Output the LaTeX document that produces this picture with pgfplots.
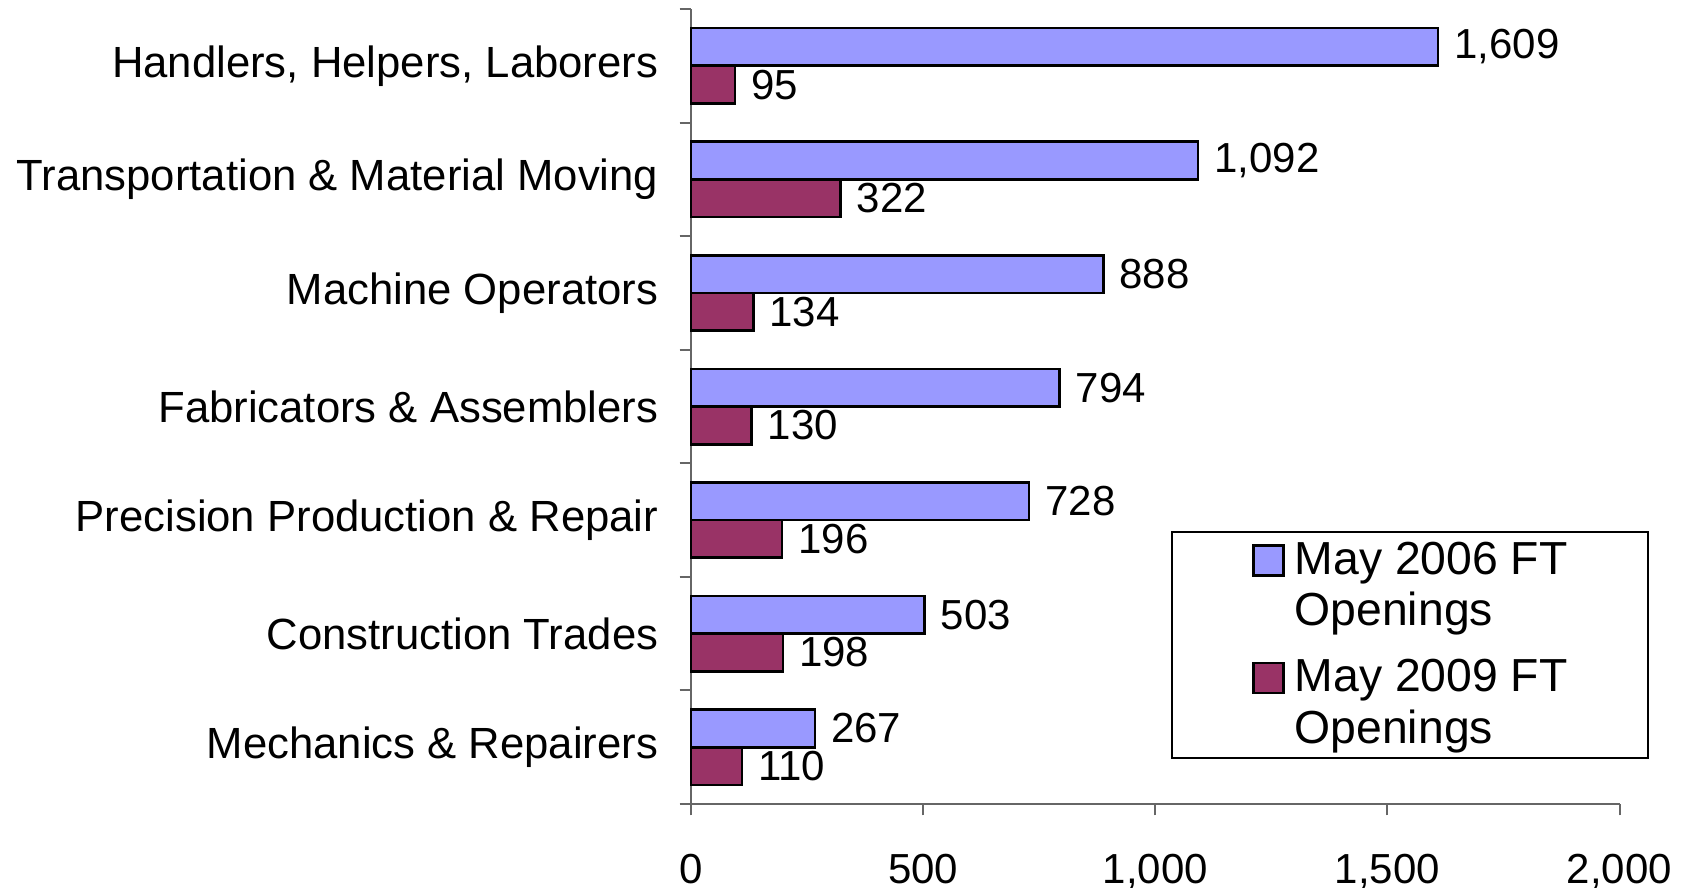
\documentclass[border=0pt]{standalone}
\usepackage{pgfplots}
\pgfplotsset{compat=1.18}
\usepackage{fontspec}
\setmainfont{Liberation Sans}
\definecolor{cblue}{HTML}{9999FF}
\definecolor{cred}{HTML}{993366}
\begin{document}
\begin{tikzpicture}
\begin{axis}[
  at={(0pt,0pt)}, anchor=south west,
  scale only axis, width=278.55pt, height=238.5pt,
  xbar, bar width=11.3pt,
  xmin=0, xmax=2000, ymin=-0.5, ymax=6.5,
  clip=false,
  axis lines*=left,
  axis line style={black!60, line width=0.6pt},
  tick style={black!60, line width=0.6pt},
  tick align=outside,
  major tick length=3.4pt,
  xtick={0,500,1000,1500,2000},
  /pgf/number format/assume math mode=true,
  /pgf/number format/1000 sep={,},
  xticklabel style={font=\fontsize{12.6}{14}\selectfont, yshift=-8pt},
  ytick={-0.5,0.5,...,6.5}, yticklabels={},
  extra y ticks={0,1,2,3,4,5,6},
  extra y tick labels={Mechanics \& Repairers, Construction Trades, Precision Production \& Repair, Fabricators \& Assemblers, Machine Operators, Transportation \& Material Moving, {Handlers, Helpers, Laborers}},
  extra y tick style={major tick length=0pt, yticklabel style={font=\fontsize{13.1}{15}\selectfont, xshift=-6.3pt}},
  nodes near coords,
  nodes near coords style={font=\fontsize{12.6}{14}\selectfont, anchor=west, inner sep=0pt, xshift=4.5pt, text=black},
  legend cell align=left,
  legend style={at={(1.0319,0.3434)}, anchor=north east, draw=black, line width=0.5pt,
    inner xsep=24.2pt, inner ysep=3pt, row sep=8.5pt, column sep=2.9pt,
    nodes={inner sep=0pt, align=left, font=\fontsize{13.9}{15.5}\selectfont},
    cells={anchor=west}},
  legend image code/.code={\draw[#1, line width=0.8pt, draw=black] (0pt,3.25pt) rectangle (9pt,12.25pt);},
]
\addplot[fill=cblue, draw=black, line width=0.8pt, bar shift=5.65pt]
  coordinates {(267,0) (503,1) (728,2) (794,3) (888,4) (1092,5) (1609,6)};
\addplot[fill=cred, draw=black, line width=0.8pt, bar shift=-5.65pt]
  coordinates {(110,0) (198,1) (196,2) (130,3) (134,4) (322,5) (95,6)};
\legend{May 2006 FT\\Openings, May 2009 FT\\Openings}
\end{axis}
\pgfresetboundingbox
\path[use as bounding box] (-207.3pt,-24.9pt) rectangle (298.2pt,241.2pt);
\end{tikzpicture}
\end{document}
